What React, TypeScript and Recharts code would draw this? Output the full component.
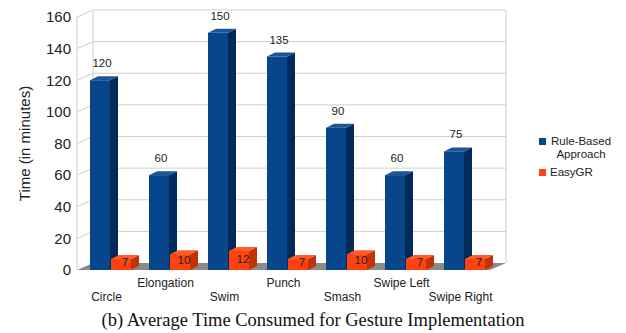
import React from 'react';
import { BarChart, Bar, XAxis, YAxis, CartesianGrid, LabelList, Legend } from 'recharts';

const categories = ['Circle', 'Elongation', 'Swim', 'Punch', 'Smash', 'Swipe Left', 'Swipe Right'];
const ruleBased = [120, 60, 150, 135, 90, 60, 75];
const easyGR = [7, 10, 12, 7, 10, 7, 7];
const yTicks = [0, 20, 40, 60, 80, 100, 120, 140, 160];
const seriesNames = ['Rule-Based Approach', 'EasyGR'];
const caption = '(b) Average Time Consumed for Gesture Implementation';
const yTitle = 'Time (in minutes)';

const data = categories.map((name, i) => ({ name, rule: ruleBased[i], easy: easyGR[i] }));

const FONT = '"Liberation Sans", Arial, sans-serif';
const WDX = 16;
const WDY = -7;
const BDX = 8;
const BDY = -4;
const SHIFT = 4;

const BLUE = { front: '#07468a', side: '#002a5a', top: '#1a5597' };
const ORANGE = { front: '#ff420e', side: '#c33205', top: '#ff5c26' };

const make3D = (c: { front: string; side: string; top: string }) => (props: any) => {
  const { x, y, width, height } = props;
  if (height == null || width == null) return null;
  const x0 = x + SHIFT;
  const x1 = x0 + width;
  const yb = y + height;
  return (
    <g>
      <polygon points={`${x1},${y} ${x1 + BDX},${y + BDY} ${x1 + BDX},${yb + BDY} ${x1},${yb}`} fill={c.side} />
      <polygon points={`${x0},${y} ${x0 + BDX},${y + BDY} ${x1 + BDX},${y + BDY} ${x1},${y}`} fill={c.top} />
      <rect x={x0} y={y} width={width} height={height} fill={c.front} />
    </g>
  );
};

const gridLine = (p: any) => {
  const { x1, x2, y1, index } = p;
  const top = p.y;
  const h = p.height;
  const bottom = top + h;
  const isBottom = Math.abs(y1 - bottom) < 0.5;
  const stroke = '#cfcfcf';
  return (
    <g key={`g-${index}`}>
      {index === 0 && (
        <g>
          <line x1={x1} y1={top} x2={x1} y2={bottom} stroke={stroke} />
          <line x1={x1 + WDX} y1={top + WDY} x2={x1 + WDX} y2={bottom + WDY} stroke={stroke} />
          <line x1={x2 + WDX} y1={top + WDY} x2={x2 + WDX} y2={bottom + WDY} stroke={stroke} />
        </g>
      )}
      {isBottom ? (
        <polygon
          points={`${x1},${y1} ${x2},${y1} ${x2 + WDX},${y1 + WDY} ${x1 + WDX},${y1 + WDY}`}
          fill="#8a8a8a"
        />
      ) : (
        <g>
          <line x1={x1} y1={y1} x2={x1 + WDX} y2={y1 + WDY} stroke={stroke} />
          <line x1={x1 + WDX} y1={y1 + WDY} x2={x2 + WDX} y2={y1 + WDY} stroke={stroke} />
        </g>
      )}
    </g>
  );
};

const XTick = (props: any) => {
  const { x, y, payload, index } = props;
  return (
    <text
      x={x}
      y={y + (index % 2 === 0 ? 27 : 13)}
      textAnchor="middle"
      dominantBaseline="central"
      fontSize={12}
      fontFamily={FONT}
      fill="#222"
    >
      {payload.value}
    </text>
  );
};

const blueLabel = (p: any) => {
  const { x, y, width, value } = p;
  return (
    <text
      x={x + SHIFT + width / 2 + 2}
      y={y - 17}
      textAnchor="middle"
      dominantBaseline="central"
      fontSize={11.5}
      fontFamily={FONT}
      fill="#222"
    >
      {value}
    </text>
  );
};

const orangeLabel = (p: any) => {
  const { x, y, width, height, value } = p;
  return (
    <text
      x={x + SHIFT + (width + BDX) / 2}
      y={y + height / 2 - 2}
      textAnchor="middle"
      dominantBaseline="central"
      fontSize={11.5}
      fontFamily={FONT}
      fill="#222"
    >
      {value}
    </text>
  );
};

const LegendContent = (props: any) => {
  const items = [...(props.payload || [])].sort(
    (a: any, b: any) => seriesNames.indexOf(a.value) - seriesNames.indexOf(b.value)
  );
  return (
    <div style={{ fontFamily: FONT, fontSize: 11.5, color: '#222', lineHeight: '13px' }}>
      {items.map((e: any, i: number) => (
        <div key={i} style={{ display: 'flex', alignItems: 'flex-start', marginTop: i === 0 ? 0 : 5 }}>
          <div style={{ width: 7, height: 7, background: e.color, marginTop: 3, marginRight: 4, flex: 'none' }} />
          <div style={{ width: 62, textAlign: i === 0 ? 'center' : 'left' }}>{e.value}</div>
        </div>
      ))}
    </div>
  );
};

export default function App() {
  return (
    <div style={{ position: 'absolute', left: 0, top: 0, width: 626, height: 333, background: '#fff' }}>
      <BarChart
        width={626}
        height={333}
        data={data}
        margin={{ top: 17, right: 136, bottom: 0, left: 0 }}
        barSize={20}
        barGap={1}
      >
        <CartesianGrid horizontal={gridLine} vertical={false} />
        <XAxis
          dataKey="name"
          height={63}
          interval={0}
          axisLine={false}
          tickLine={false}
          tickSize={0}
          tickMargin={0}
          tick={XTick}
        />
        <YAxis
          type="number"
          domain={[0, 160]}
          ticks={yTicks}
          width={77}
          axisLine={false}
          tickLine={false}
          tickSize={0}
          tickMargin={6}
          tick={{ fontSize: 15, fill: '#222', fontFamily: FONT }}
          label={{
            value: yTitle,
            angle: -90,
            position: 'center',
            dx: -13.5,
            style: { fontSize: 15, fill: '#222', fontFamily: FONT },
          }}
        />
        <Legend
          layout="horizontal"
          verticalAlign="middle"
          align="center"
          content={LegendContent}
          wrapperStyle={{ position: 'absolute', left: 539, top: 135, width: 80 }}
        />
        <Bar dataKey="rule" name={seriesNames[0]} fill={BLUE.front} shape={make3D(BLUE)} isAnimationActive={false}>
          <LabelList dataKey="rule" content={blueLabel} />
        </Bar>
        <Bar dataKey="easy" name={seriesNames[1]} fill={ORANGE.front} shape={make3D(ORANGE)} isAnimationActive={false}>
          <LabelList dataKey="easy" content={orangeLabel} />
        </Bar>
      </BarChart>
      <div
        style={{
          position: 'absolute',
          left: 0,
          top: 309,
          width: 626,
          textAlign: 'center',
          fontFamily: '"Liberation Serif", "Times New Roman", serif',
          fontSize: 18.5,
          lineHeight: '22px',
          color: '#111',
        }}
      >
        {caption}
      </div>
    </div>
  );
}
